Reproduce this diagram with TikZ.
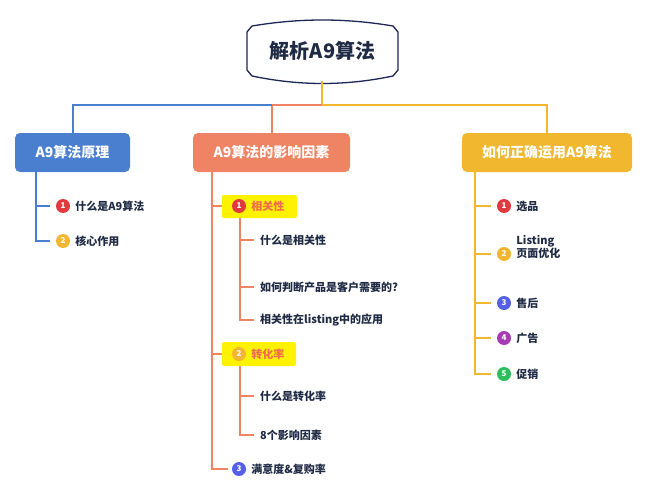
\documentclass[tikz,border=0pt]{standalone}
\usepackage{fontspec}
\setmainfont{Noto Sans CJK SC}
\usepackage{tikz}
\usetikzlibrary{positioning}
\definecolor{cblue}{HTML}{4A7FD0}
\definecolor{cred}{HTML}{EF8465}
\definecolor{cyel}{HTML}{F0B72F}
\definecolor{ink}{HTML}{1F2A44}
\definecolor{nred}{HTML}{E0393E}
\definecolor{nyel}{HTML}{F3B632}
\definecolor{nblue}{HTML}{5560E6}
\definecolor{npur}{HTML}{A83AB4}
\definecolor{ngreen}{HTML}{2DBE5B}
\definecolor{hl}{HTML}{FFF200}
\tikzset{
  branch/.style={rounded corners=5pt,minimum height=39pt,text=white,font=\fontsize{14}{16}\selectfont\bfseries},
  num/.style={circle,inner sep=0pt,minimum size=14pt,text=white,font=\fontsize{8}{8}\selectfont\bfseries},
  item/.style={anchor=west,inner sep=0pt,text=ink,font=\fontsize{11}{13}\selectfont\bfseries},
  link/.style={line width=2pt},
  tick/.style={line width=1.5pt}
}
\begin{document}
\begin{tikzpicture}[x=1pt,y=-1pt]
\useasboundingbox (0,0) rectangle (647,500);
% root
\draw[line width=1.3pt,draw=ink!90!blue,fill=white] (252,26) .. controls (300,18) and (345,18) .. (393,26)
  -- (398,32) -- (398,70) -- (393,76) .. controls (345,86) and (300,86) .. (252,76) -- (247,70) -- (247,32) -- cycle;
\node[text=ink,font=\fontsize{20}{22}\selectfont\bfseries] (root) at (322.5,51) {解析A9算法};
% branches
\node[branch,fill=cblue,minimum width=115pt] (b1) at (72.5,152.5) {A9算法原理};
\node[branch,fill=cred,minimum width=157pt] (b2) at (271.5,152.5) {A9算法的影响因素};
\node[branch,fill=cyel,minimum width=170pt] (b3) at (547,152.5) {如何正确运用A9算法};
\coordinate (top) at (322,81);
\coordinate (mid) at (322,105);
\draw[link,cyel] (top) -- (mid) -| (b3.north);
\draw[link,cred] (mid) -| (b2.north);
\draw[link,cblue] (b2.north |- mid) -| (b1.north);
% left branch
\node[num,fill=nred] (l1) at (63,206) {1};
\node[item,right=5pt of l1] (l1t) {什么是A9算法};
\node[num,fill=nyel] (l2) at (63,241) {2};
\node[item,right=5pt of l2] (l2t) {核心作用};
\draw[tick,cblue] (36,172) |- ([xshift=-6pt]l2.west);
\draw[tick,cblue] (36,206) -- ([xshift=-6pt]l1.west);
% middle branch
\fill[hl,rounded corners=2pt] (222,195) rectangle (297,218);
\node[num,fill=nred] (m1) at (239,206) {1};
\node[item,right=5pt of m1,text=cred!80!red] (m1t) {相关性};
\fill[hl,rounded corners=2pt] (222,342) rectangle (296,366);
\node[num,fill=nyel] (m2) at (239,354) {2};
\node[item,right=5pt of m2,text=cred!80!red] (m2t) {转化率};
\node[num,fill=nblue] (m3) at (239,469) {3};
\node[item,right=5pt of m3] (m3t) {满意度\&复购率};
\node[item] (s1) at (260,240) {什么是相关性};
\node[item] (s2) at (260,287) {如何判断产品是客户需要的?};
\node[item] (s3) at (260,320) {相关性在listing中的应用};
\node[item] (s4) at (260,396) {什么是转化率};
\node[item] (s5) at (260,435) {8个影响因素};
\draw[tick,cred] (212,172) |- ([xshift=-4pt]m3.west);
\draw[tick,cred] (212,206) -- (222,206);
\draw[tick,cred] (212,354) -- (222,354);
\draw[tick,cred] (240,218) |- ([xshift=-6pt]s3.west);
\draw[tick,cred] (240,240) -- ([xshift=-6pt]s1.west);
\draw[tick,cred] (240,287) -- ([xshift=-6pt]s2.west);
\draw[tick,cred] (240,366) |- ([xshift=-6pt]s5.west);
\draw[tick,cred] (240,396) -- ([xshift=-6pt]s4.west);
% right branch
\node[num,fill=nred] (r1) at (504,206) {1};
\node[item,right=5pt of r1] (r1t) {选品};
\node[num,fill=nyel] (r2) at (504,254) {2};
\node[item,right=5pt of r2,yshift=7pt,align=left] (r2t) {Listing\\页面优化};
\node[num,fill=nblue] (r3) at (504,303) {3};
\node[item,right=5pt of r3] (r3t) {售后};
\node[num,fill=npur] (r4) at (504,338) {4};
\node[item,right=5pt of r4] (r4t) {广告};
\node[num,fill=ngreen] (r5) at (504,374) {5};
\node[item,right=5pt of r5] (r5t) {促销};
\draw[tick,cyel] (475,172) |- ([xshift=-6pt]r5.west);
\foreach \n in {r1,r2,r3,r4} \draw[tick,cyel] (475,0 |- \n) -- ([xshift=-6pt]\n.west);
\end{tikzpicture}
\end{document}
